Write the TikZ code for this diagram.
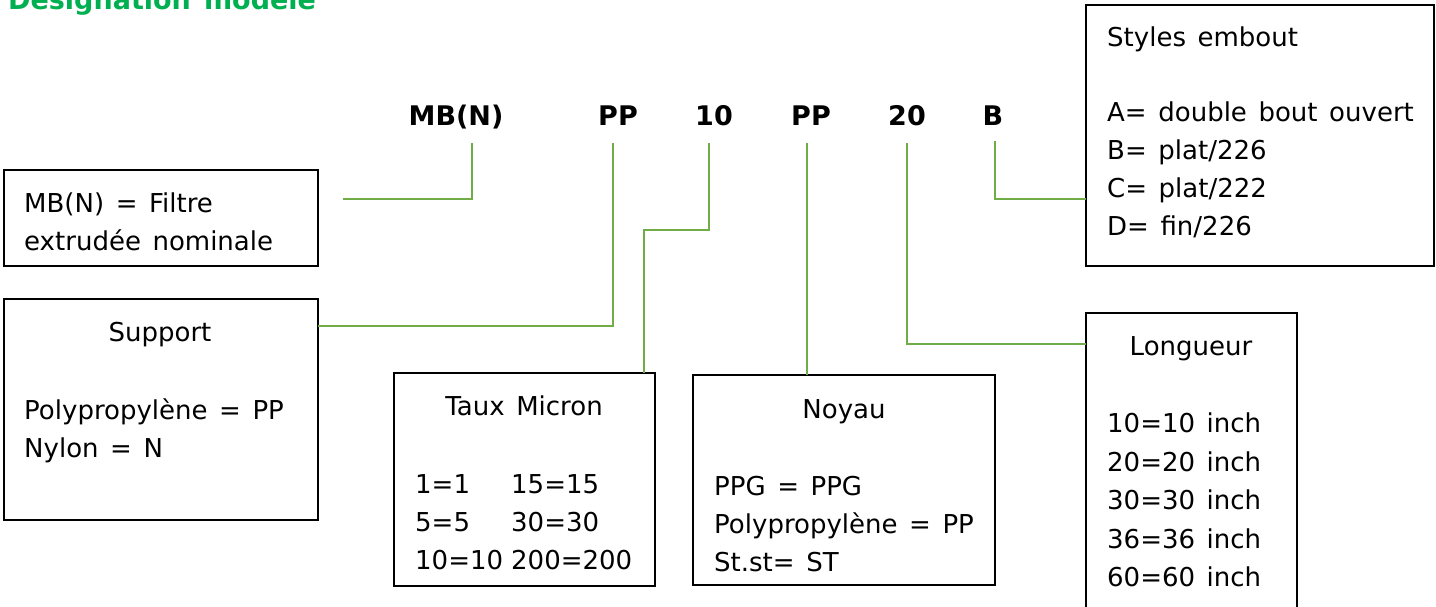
\documentclass[tikz,border=0pt]{standalone}
\usepackage{fontspec}
\setmainfont{DejaVu Sans}[WordSpace=1.4]
\definecolor{lineg}{HTML}{70AD47}
\definecolor{titleg}{HTML}{00B050}
\begin{document}
\begin{tikzpicture}[x=1pt,y=-1pt,
  box/.style={draw=black, line width=1.8pt, inner sep=0pt, outer sep=0pt, anchor=north west},
  conn/.style={draw=lineg, line width=1.4pt},
  txt/.style={inner sep=0pt, anchor=base west, font=\fontsize{26}{38}\selectfont},
  ctxt/.style={inner sep=0pt, anchor=base, font=\fontsize{26}{38}\selectfont},
  code/.style={inner sep=0pt, anchor=base, font=\fontsize{27}{38}\selectfont\bfseries}]
\useasboundingbox (0,0) rectangle (1436,607);
\clip (0,0) rectangle (1436,607);
% title
\node[txt, font=\fontsize{27}{38}\selectfont\bfseries, text=titleg] (title) at (8,10) {Designation modele};
% header codes
\node[code] (hMB) at (456,126) {MB(N)};
\node[code] (hPP) at (618,126) {PP};
\node[code] (h10) at (714,126) {10};
\node[code] (hNo) at (811,126) {PP};
\node[code] (h20) at (907,126) {20};
\node[code] (hB)  at (993,126) {B};
% boxes
\node[box, minimum width=314pt, minimum height=96pt]  (bMB)  at (4,170) {};
\node[box, minimum width=314pt, minimum height=221pt] (bSup) at (4,299) {};
\node[box, minimum width=261pt, minimum height=213pt] (bTaux) at (394,373) {};
\node[box, minimum width=302pt, minimum height=210pt] (bNo) at (693,375) {};
\node[box, minimum width=348pt, minimum height=261pt] (bSty) at (1086,5) {};
\node[box, minimum width=211pt, minimum height=320pt] (bLon) at (1086,313) {};
% texts
\node[txt] (m1) at (24,212) {MB(N) = Filtre};
\node[txt] (m2) at (24,250) {extrudée nominale};
\node[ctxt] (s0) at (160,341) {Support};
\node[txt] (s1) at (24,419) {Polypropylène = PP};
\node[txt] (s2) at (24,457) {Nylon = N};
\node[ctxt] (t0) at (524,415) {Taux Micron};
\node[txt] (t1) at (415,493) {1=1};
\node[txt] (t2) at (511,493) {15=15};
\node[txt] (t3) at (415,531) {5=5};
\node[txt] (t4) at (511,531) {30=30};
\node[txt] (t5) at (415,569) {10=10};
\node[txt] (t6) at (511,569) {200=200};
\node[ctxt] (n0) at (844,418) {Noyau};
\node[txt] (n1) at (714,495) {PPG = PPG};
\node[txt] (n2) at (714,533) {Polypropylène = PP};
\node[txt] (n3) at (714,571) {St.st= ST};
\node[txt] (y0) at (1107,47) {Styles embout};
\node[txt] (y1) at (1107,122) {A= double bout ouvert};
\node[txt] (y2) at (1107,160) {B= plat/226};
\node[txt] (y3) at (1107,197) {C= plat/222};
\node[txt] (y4) at (1107,235) {D= fin/226};
\node[ctxt] (l0) at (1191,355) {Longueur};
\node[txt] (l1) at (1107,432) {10=10 inch};
\node[txt] (l2) at (1107,471) {20=20 inch};
\node[txt] (l3) at (1107,509) {30=30 inch};
\node[txt] (l4) at (1107,548) {36=36 inch};
\node[txt] (l5) at (1107,586) {60=60 inch};
% connectors
\coordinate (cMB) at (472,143);
\coordinate (eMB) at (343,199);
\coordinate (cPP) at (613,143);
\coordinate (c10) at (709,143);
\coordinate (k10) at (644,230);
\coordinate (cNo) at (807,143);
\coordinate (c20) at (907,143);
\coordinate (cB)  at (995,141);
\draw[conn] (cMB) |- (eMB);
\draw[conn] (cPP) |- ([yshift=-27pt]bSup.north east);
\draw[conn] (c10) |- (k10) -- ([xshift=250pt]bTaux.north west);
\draw[conn] (cNo) -- (bNo.north -| cNo);
\draw[conn] (c20) |- ([yshift=-31pt]bLon.north west);
\draw[conn] (cB) |- ([yshift=-194pt]bSty.north west);
\end{tikzpicture}
\end{document}
